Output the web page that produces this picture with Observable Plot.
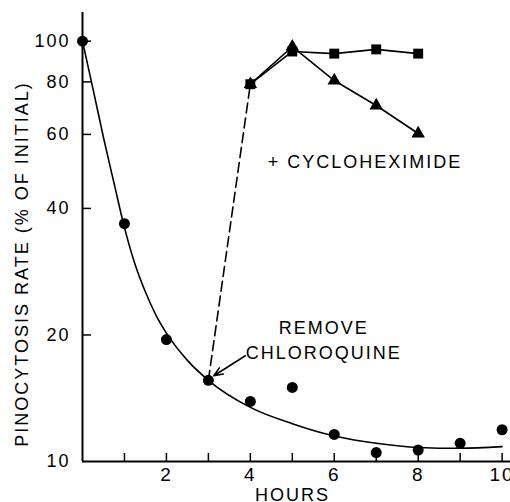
<!DOCTYPE html>
<html><head><meta charset="utf-8">
<script src="https://cdn.jsdelivr.net/npm/d3@7"></script>
<script src="https://cdn.jsdelivr.net/npm/@observablehq/plot@0.6"></script>
<style>body{margin:0;background:#fff} #chart{width:510px;height:502px}</style>
</head><body><div id="chart"></div>
<script>
// Measured pinocytosis rate (% of initial) after chloroquine
const hours = [0, 1, 2, 3, 4, 5, 6, 7, 8, 9, 10];
const rate = [100, 36.8, 19.5, 15.6, 13.9, 15.0, 11.6, 10.5, 10.65, 11.05, 11.9];
// Fitted decay curve
const fitHours = [0, 0.25, 0.5, 0.75, 1, 1.25, 1.5, 1.75, 2, 2.5, 3, 4, 5, 6, 7, 8, 9, 10];
const fitRate = [100, 77, 59, 46, 36, 29.5, 25.3, 22.3, 20.2, 17.4, 15.6, 13.45, 12.3, 11.5, 11.05, 10.8, 10.75, 10.85];
// Recovery after removing chloroquine
const recoveryHours = [4, 5, 6, 7, 8];
const controlRate = [79, 94.5, 93.4, 95.6, 93.4];
const cycloRate = [79, 97, 80.6, 70.3, 60.3];
const removalHours = [3, 4];
const removalRate = [15.6, 79];
// Ticks
const xTickLabels = [2, 4, 6, 8, 10];
const xTickMarks = [1, 2, 3, 4, 5, 6, 7, 8, 9, 10];
const yTickLabels = [10, 20, 40, 60, 80, 100];
const yTickMarks = [20, 40, 60, 80, 100];
// Annotations
const noteText = ["REMOVE", "CHLOROQUINE", "+ CYCLOHEXIMIDE"];
const noteHour = [5.75, 5.75, 6.73];
const noteRate = [20.7, 18.05, 51.4];
const arrowHour = [3.88, 3.13];
const arrowRate = [17.85, 16.0];
const xLabel = "HOURS";
const yLabel = "PINOCYTOSIS RATE (% OF INITIAL)";

const chart = Plot.plot({
  width: 510,
  height: 502,
  marginLeft: 82,
  marginRight: 0,
  marginTop: 12,
  marginBottom: 41,
  x: {domain: [0, 10.2]},
  y: {type: "log", domain: [10, 117]},
  style: {fontFamily: "'Liberation Sans', Arial, sans-serif", fontSize: "18px", color: "black", background: "white", letterSpacing: "2px"},
  marks: [
    Plot.ruleX([0], {strokeWidth: 2}),
    Plot.ruleY([10], {strokeWidth: 2}),
    Plot.tickX(xTickMarks, {x: d => d, insetTop: 449 - 8, strokeWidth: 1.5}),
    Plot.tickY(yTickMarks, {y: d => d, insetRight: 428 - 9, strokeWidth: 1.5}),
    Plot.axisX(xTickLabels, {tickSize: 0, tickPadding: 6, fontSize: 19, label: null, tickFormat: d => d}),
    Plot.axisY(yTickLabels, {tickSize: 0, tickPadding: 12, fontSize: 18, label: null, tickFormat: d => d}),
    Plot.text([xLabel], {frameAnchor: "bottom", textAnchor: "middle", dx: -4, dy: 39, fontSize: 18}),
    Plot.text([yLabel], {frameAnchor: "left", textAnchor: "middle", dx: -60, dy: 27, rotate: -90, fontSize: 18, letterSpacing: "2.5px"}),
    Plot.line(fitRate, {x: fitHours, y: fitRate, curve: "monotone-x", strokeWidth: 1.6}),
    Plot.line(removalRate, {x: removalHours, y: removalRate, strokeWidth: 1.6, strokeDasharray: "10,5"}),
    Plot.line(cycloRate, {x: recoveryHours, y: cycloRate, strokeWidth: 1.6}),
    Plot.line(controlRate, {x: recoveryHours, y: controlRate, strokeWidth: 1.6}),
    Plot.dot(rate, {x: hours, y: rate, r: 5.5, fill: "black"}),
    Plot.dot(cycloRate, {x: recoveryHours, y: cycloRate, r: 5, symbol: "triangle", fill: "black"}),
    Plot.dot(controlRate, {x: recoveryHours, y: controlRate, r: 5.6, symbol: "square", fill: "black"}),
    Plot.text(noteText, {x: noteHour, y: noteRate, text: d => d, fontSize: 18}),
    Plot.arrow([0], {x1: arrowHour[0], y1: arrowRate[0], x2: arrowHour[1], y2: arrowRate[1], strokeWidth: 1.6, headLength: 9, headAngle: 45})
  ]
});
document.getElementById("chart").append(chart);
</script>
</body></html>
